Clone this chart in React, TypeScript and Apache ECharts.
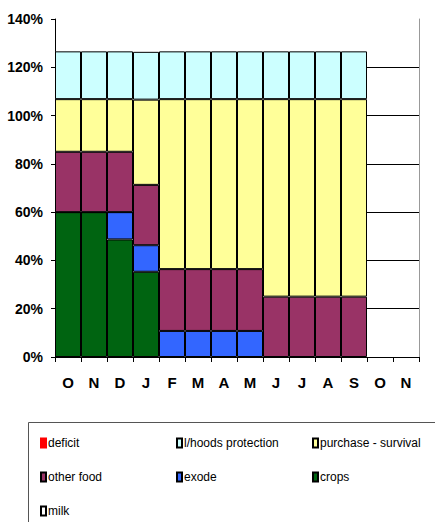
import React, { useEffect, useRef } from "react";
import * as echarts from "echarts";

const months = ["O", "N", "D", "J", "F", "M", "A", "M", "J", "J", "A", "S", "O", "N"];
const yTicks = [0, 20, 40, 60, 80, 100, 120, 140];

const crops = [60, 60, 48.7, 35.3, "-", "-", "-", "-", "-", "-", "-", "-", "-", "-"];
const exode = ["-", "-", 11.3, 11, 10.8, 10.8, 10.8, 10.8, "-", "-", "-", "-", "-", "-"];
const otherFood = [25, 25, 25, 25, 25.6, 25.6, 25.6, 25.6, 25, 25, 25, 25, "-", "-"];
const purchase = [21.8, 21.8, 21.8, 35.3, 70.4, 70.4, 70.4, 70.4, 81.8, 81.8, 81.8, 81.8, "-", "-"];
const livelihoods = [19.8, 19.8, 19.8, 19.8, 19.8, 19.8, 19.8, 19.8, 19.8, 19.8, 19.8, 19.8, "-", "-"];
const deficit = ["-", "-", "-", "-", "-", "-", "-", "-", "-", "-", "-", "-", "-", "-"];
const milk = ["-", "-", "-", "-", "-", "-", "-", "-", "-", "-", "-", "-", "-", "-"];

const FONT = "'Liberation Sans', Arial, sans-serif";

export default function App() {
  const ref = useRef<HTMLDivElement>(null);
  useEffect(() => {
    if (!ref.current) return;
    const chart = echarts.init(ref.current, undefined, { renderer: "svg" });
    const bar = (name: string, data: any[], color: string, border = "#000") => ({
      name,
      type: "bar",
      stack: "total",
      data,
      barCategoryGap: "0%",
      itemStyle: { color, borderColor: border, borderWidth: 1 },
    });
    const legendCommon = {
      orient: "vertical",
      top: 432,
      itemWidth: 5,
      itemHeight: 9,
      itemGap: 22,
      icon: "rect",
      textStyle: { fontFamily: FONT, fontSize: 12, color: "#000", padding: [0, 0, 0, -3] },
    };
    chart.setOption({
      animation: false,
      grid: { left: 55, right: 16, top: 19, bottom: 165 },
      xAxis: {
        type: "category",
        data: months,
        axisLine: { lineStyle: { color: "#000" } },
        axisTick: { show: true, length: 5, lineStyle: { color: "#000" } },
        axisLabel: { fontFamily: FONT, fontWeight: "bold", fontSize: 15, color: "#000", margin: 18 },
      },
      yAxis: [
        {
          type: "value",
          min: 0,
          max: 140,
          interval: 20,
          axisLine: { show: true, lineStyle: { color: "#000" } },
          axisTick: { show: true, inside: false, length: 4, lineStyle: { color: "#000" } },
          axisLabel: {
            fontFamily: FONT,
            fontWeight: "bold",
            fontSize: 14,
            color: "#000",
            margin: 12,
            formatter: (v: number) => (yTicks.includes(v) ? v + "%" : ""),
          },
          splitLine: {
            show: true,
            lineStyle: { color: ["#000", "#000", "#000", "#000", "#000", "#000", "#000", "transparent"], width: 1 },
          },
        },
        {
          type: "value",
          position: "right",
          min: 0,
          max: 140,
          interval: 20,
          axisLine: { show: true, lineStyle: { color: "#999" } },
          axisTick: { show: false },
          axisLabel: { show: false },
          splitLine: { show: false },
        },
      ],
      legend: [
        { ...legendCommon, left: 35, data: ["deficit", "other food", "milk"] },
        { ...legendCommon, left: 171, data: ["l/hoods protection", "exode"] },
        { ...legendCommon, left: 307, data: ["purchase - survival", "crops"] },
      ],
      graphic: [
        {
          type: "rect",
          shape: { x: 28.5, y: 422.5, width: 420, height: 120 },
          style: { fill: "none", stroke: "#555", lineWidth: 1 },
          silent: true,
          z: -1,
        },
      ],
      series: [
        bar("crops", crops, "#006411"),
        bar("exode", exode, "#3366ff"),
        bar("other food", otherFood, "#993366"),
        bar("purchase - survival", purchase, "#ffff99"),
        bar("l/hoods protection", livelihoods, "#ccffff"),
        bar("deficit", deficit, "#ff0000", "#ff0000"),
        bar("milk", milk, "#ffffff"),
      ],
    });
    return () => chart.dispose();
  }, []);
  return <div ref={ref} style={{ width: 435, height: 522, position: "absolute", left: 0, top: 0 }} />;
}
